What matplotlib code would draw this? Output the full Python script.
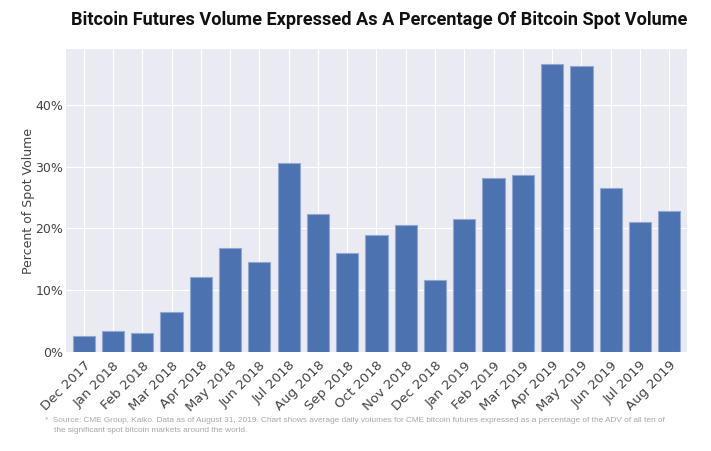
import matplotlib
matplotlib.use("Agg")
import matplotlib.pyplot as plt
from matplotlib.ticker import FuncFormatter

# data
months = ["Dec 2017", "Jan 2018", "Feb 2018", "Mar 2018", "Apr 2018", "May 2018",
          "Jun 2018", "Jul 2018", "Aug 2018", "Sep 2018", "Oct 2018", "Nov 2018",
          "Dec 2018", "Jan 2019", "Feb 2019", "Mar 2019", "Apr 2019", "May 2019",
          "Jun 2019", "Jul 2019", "Aug 2019"]
pct_of_spot = [2.6, 3.4, 3.0, 6.5, 12.1, 16.9, 14.5, 30.5, 22.4, 16.0, 18.9, 20.6,
               11.6, 21.6, 28.2, 28.7, 46.6, 46.2, 26.5, 21.0, 22.8]
y_ticks = [0, 10, 20, 30, 40]

title = "Bitcoin Futures Volume Expressed As A Percentage Of Bitcoin Spot Volume"
note = ("*  Source: CME Group, Kaiko. Data as of August 31, 2019. Chart shows average daily volumes "
        "for CME bitcoin futures expressed as a percentage of the ADV of all ten of\n"
        "    the significant spot bitcoin markets around the world.")

fig = plt.figure(figsize=(7.11, 4.51), dpi=100)
ax = fig.add_axes([0.093, 0.2195, 0.873, 0.6715])
ax.set_facecolor("#eaeaf2")
for s in ax.spines.values():
    s.set_visible(False)

ax.grid(True, color="white", lw=0.8)
ax.set_axisbelow(True)

x = range(len(months))
ax.bar(x, pct_of_spot, width=0.76, color="#4c72b0", edgecolor="#8fa8d4", linewidth=0.8)

ax.set_xlim(-0.6, len(months) - 0.4)
ax.set_ylim(0, 49)
ax.set_yticks(y_ticks)
ax.yaxis.set_major_formatter(FuncFormatter(lambda v, p: f"{v:.0f}%"))
ax.set_xticks(list(x))
ax.set_xticklabels(months, rotation=45, ha="right", rotation_mode="anchor")
ax.tick_params(axis="x", length=0, labelsize=9.5, colors="#444444", pad=5)
ax.tick_params(axis="y", length=0, labelsize=9, colors="#444444", pad=2)
ax.set_ylabel("Percent of Spot Volume", fontsize=9, color="#444444")
ax.yaxis.set_label_coords(-0.05, 0.5)

fig.text(0.533, 0.955, title, ha="center", va="center", fontsize=13.1,
         fontweight="bold", family="Roboto", color="#111111")
fig.text(0.063, 0.056, note, ha="left", va="center", fontsize=5.95,
         family="Liberation Sans", color="#a8a8a8", linespacing=1.55)

fig.savefig("out.png", dpi=100)
